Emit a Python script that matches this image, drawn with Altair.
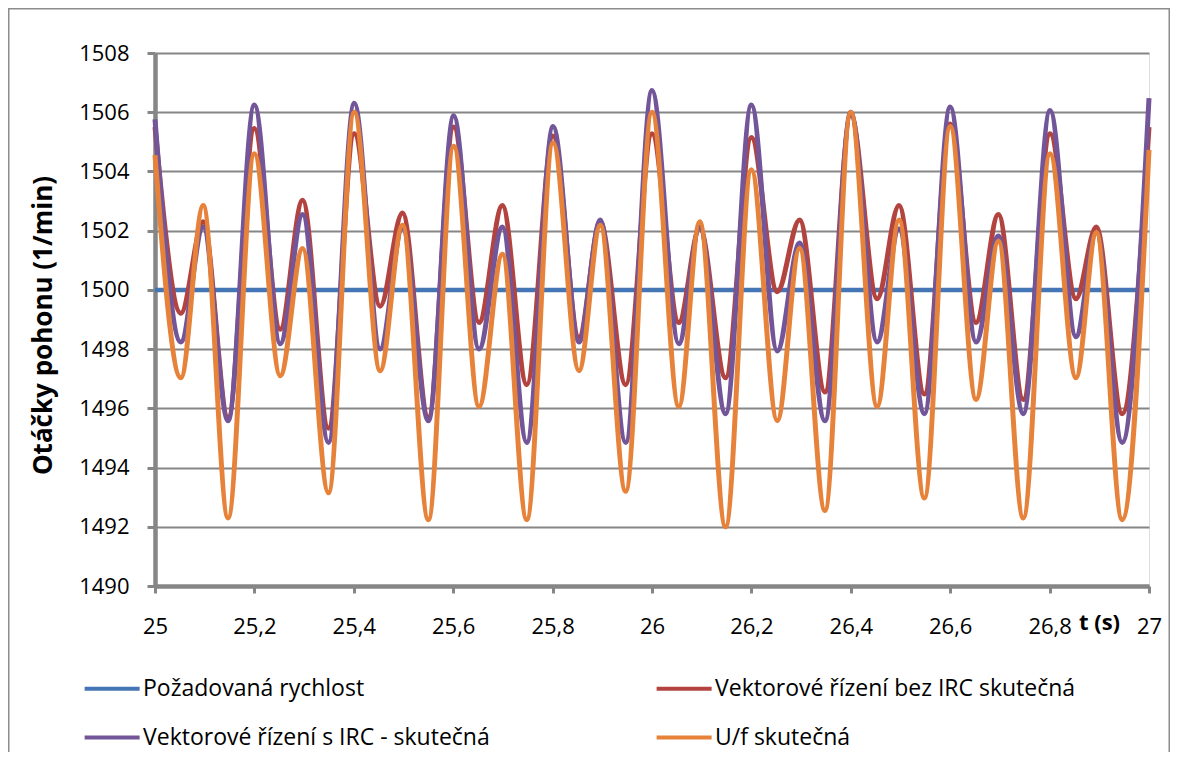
import altair as alt
import pandas as pd

# time samples (s) at the turning points of the recorded signals
t = [25.0, 25.052, 25.097, 25.147, 25.2, 25.252, 25.297, 25.349, 25.401, 25.453,
     25.498, 25.55, 25.601, 25.652, 25.699, 25.748, 25.801, 25.853, 25.896, 25.947,
     26.0, 26.054, 26.096, 26.148, 26.2, 26.252, 26.297, 26.348, 26.4, 26.453,
     26.497, 26.548, 26.6, 26.652, 26.697, 26.747, 26.801, 26.853, 26.894, 26.946,
     27.0]

pozadovana_t = [25.0, 27.0]
pozadovana = [1500.0, 1500.0]

bez_irc = [1505.5, 1499.21, 1502.3, 1495.7, 1505.45, 1498.67, 1503.03, 1495.33, 1505.27, 1499.45,
           1502.6, 1495.7, 1505.5, 1498.9, 1502.85, 1496.8, 1505.2, 1498.4, 1502.3, 1496.8,
           1505.27, 1498.9, 1502.1, 1497.03, 1505.15, 1499.94, 1502.36, 1496.55, 1505.9, 1499.7,
           1502.85, 1496.48, 1505.6, 1498.9, 1502.55, 1496.3, 1505.27, 1499.7, 1502.12, 1495.82,
           1505.5]

s_irc = [1505.76, 1498.24, 1502.12, 1495.58, 1506.24, 1498.18, 1502.55, 1494.85, 1506.3, 1498.0,
         1502.1, 1495.58, 1505.88, 1498.0, 1502.12, 1494.85, 1505.52, 1498.24, 1502.36, 1494.85,
         1506.73, 1498.18, 1502.12, 1495.82, 1506.24, 1497.94, 1501.58, 1495.58, 1506.0, 1498.24,
         1502.06, 1495.82, 1506.18, 1498.24, 1501.82, 1495.82, 1506.06, 1498.42, 1501.94, 1494.85,
         1506.48]

uf = [1504.55, 1497.03, 1502.85, 1492.3, 1504.6, 1497.1, 1501.4, 1493.15, 1506.0, 1497.27,
      1502.18, 1492.24, 1504.85, 1496.06, 1501.2, 1492.24, 1504.97, 1497.27, 1502.18, 1493.2,
      1506.0, 1496.06, 1502.3, 1492.0, 1504.06, 1495.58, 1501.4, 1492.55, 1506.0, 1496.06,
      1502.36, 1492.97, 1505.52, 1496.3, 1501.64, 1492.3, 1504.6, 1497.03, 1501.94, 1492.24,
      1504.73]

N_POZ = "Požadovaná rychlost"
N_BEZ = "Vektorové řízení bez IRC skutečná"
N_S = "Vektorové řízení s IRC - skutečná"
N_UF = "U/f skutečná"

# drawing order (bottom to top)
draw_order = [N_POZ, N_BEZ, N_S, N_UF]
# legend domain order (legend fills column by column in a 2x2 grid)
legend_order = [N_POZ, N_S, N_BEZ, N_UF]
color_of = {N_POZ: "#4475B5", N_BEZ: "#B3433F", N_S: "#725699", N_UF: "#E6823A"}

x_ticks = [25.0, 25.2, 25.4, 25.6, 25.8, 26.0, 26.2, 26.4, 26.6, 26.8, 27.0]
y_ticks = [1490, 1492, 1494, 1496, 1498, 1500, 1502, 1504, 1506, 1508]

rows = []
for tt, v in zip(pozadovana_t, pozadovana):
    rows.append({"t": tt, "v": v, "s": N_POZ})
for series, name in ((bez_irc, N_BEZ), (s_irc, N_S), (uf, N_UF)):
    for tt, v in zip(t, series):
        rows.append({"t": tt, "v": v, "s": name})
df = pd.DataFrame(rows)

FONT = "Open Sans"
GRAY = "#868686"

x = alt.X("t:Q",
          scale=alt.Scale(domain=[25, 27], nice=False, zero=False),
          axis=alt.Axis(values=x_ticks, grid=False, title="t (s)",
                        labelExpr="replace(format(datum.value, '~g'), '.', ',')",
                        labelFont=FONT, labelFontSize=22, labelColor="black",
                        labelPadding=23, tickSize=7, tickWidth=3, tickColor=GRAY,
                        domainColor=GRAY, domainWidth=4.5,
                        titleFont=FONT, titleFontSize=22, titleFontWeight="bold",
                        titleColor="black", titleX=944, titleY=36,
                        titleAlign="center", titleBaseline="middle",
                        labelFlush=False, labelOverlap=False))
y = alt.Y("v:Q",
          scale=alt.Scale(domain=[1490, 1508], nice=False, zero=False),
          axis=alt.Axis(values=y_ticks, grid=True, gridColor=GRAY, gridWidth=2,
                        title="Otáčky pohonu (1/min)",
                        labelExpr="format(datum.value, '~g')",
                        labelFont=FONT, labelFontSize=22, labelColor="black",
                        labelPadding=18, tickSize=8, tickWidth=3, tickColor=GRAY,
                        domainColor=GRAY, domainWidth=4.5,
                        titleFont=FONT, titleFontSize=26, titleFontWeight="bold",
                        titleColor="black", titleX=-112, titleY=272,
                        titleAngle=-90, titleAlign="center", titleBaseline="middle",
                        labelOverlap=False))

color = alt.Color("s:N",
                  scale=alt.Scale(domain=legend_order,
                                  range=[color_of[n] for n in legend_order]),
                  legend=alt.Legend(title=None, orient="none", legendX=-75, legendY=624,
                                    columns=2, columnPadding=158, rowPadding=25,
                                    symbolType="M-1,0H7", symbolSize=189.06,
                                    symbolStrokeWidth=4, labelOffset=40,
                                    labelFont=FONT, labelFontSize=23, labelColor="black",
                                    labelLimit=0, padding=0))

base = alt.Chart(df)
layers = []
frame = alt.Chart(pd.DataFrame({"k": [0]})).mark_rect(
    fillOpacity=0, stroke="#8C8C8C", strokeWidth=1.5
).encode(x=alt.value(-146.25), x2=alt.value(1014.25), y=alt.value(-44.25), y2=alt.value(900))
layers.append(frame)
for n in draw_order:
    layers.append(
        base.transform_filter(alt.datum.s == n)
        .mark_line(interpolate="monotone", strokeWidth=4.5 if n == N_POZ else 5)
        .encode(x=x, y=y, color=color)
    )

chart = alt.layer(*layers).properties(
    width=994, height=533,
    padding={"left": 147, "top": 45, "right": 21, "bottom": 166},
    autosize=alt.AutoSizeParams(type="none"),
).configure_view(stroke=None).configure(background="white")

chart.save("out.html", embed_options={"renderer": "svg", "actions": False})
